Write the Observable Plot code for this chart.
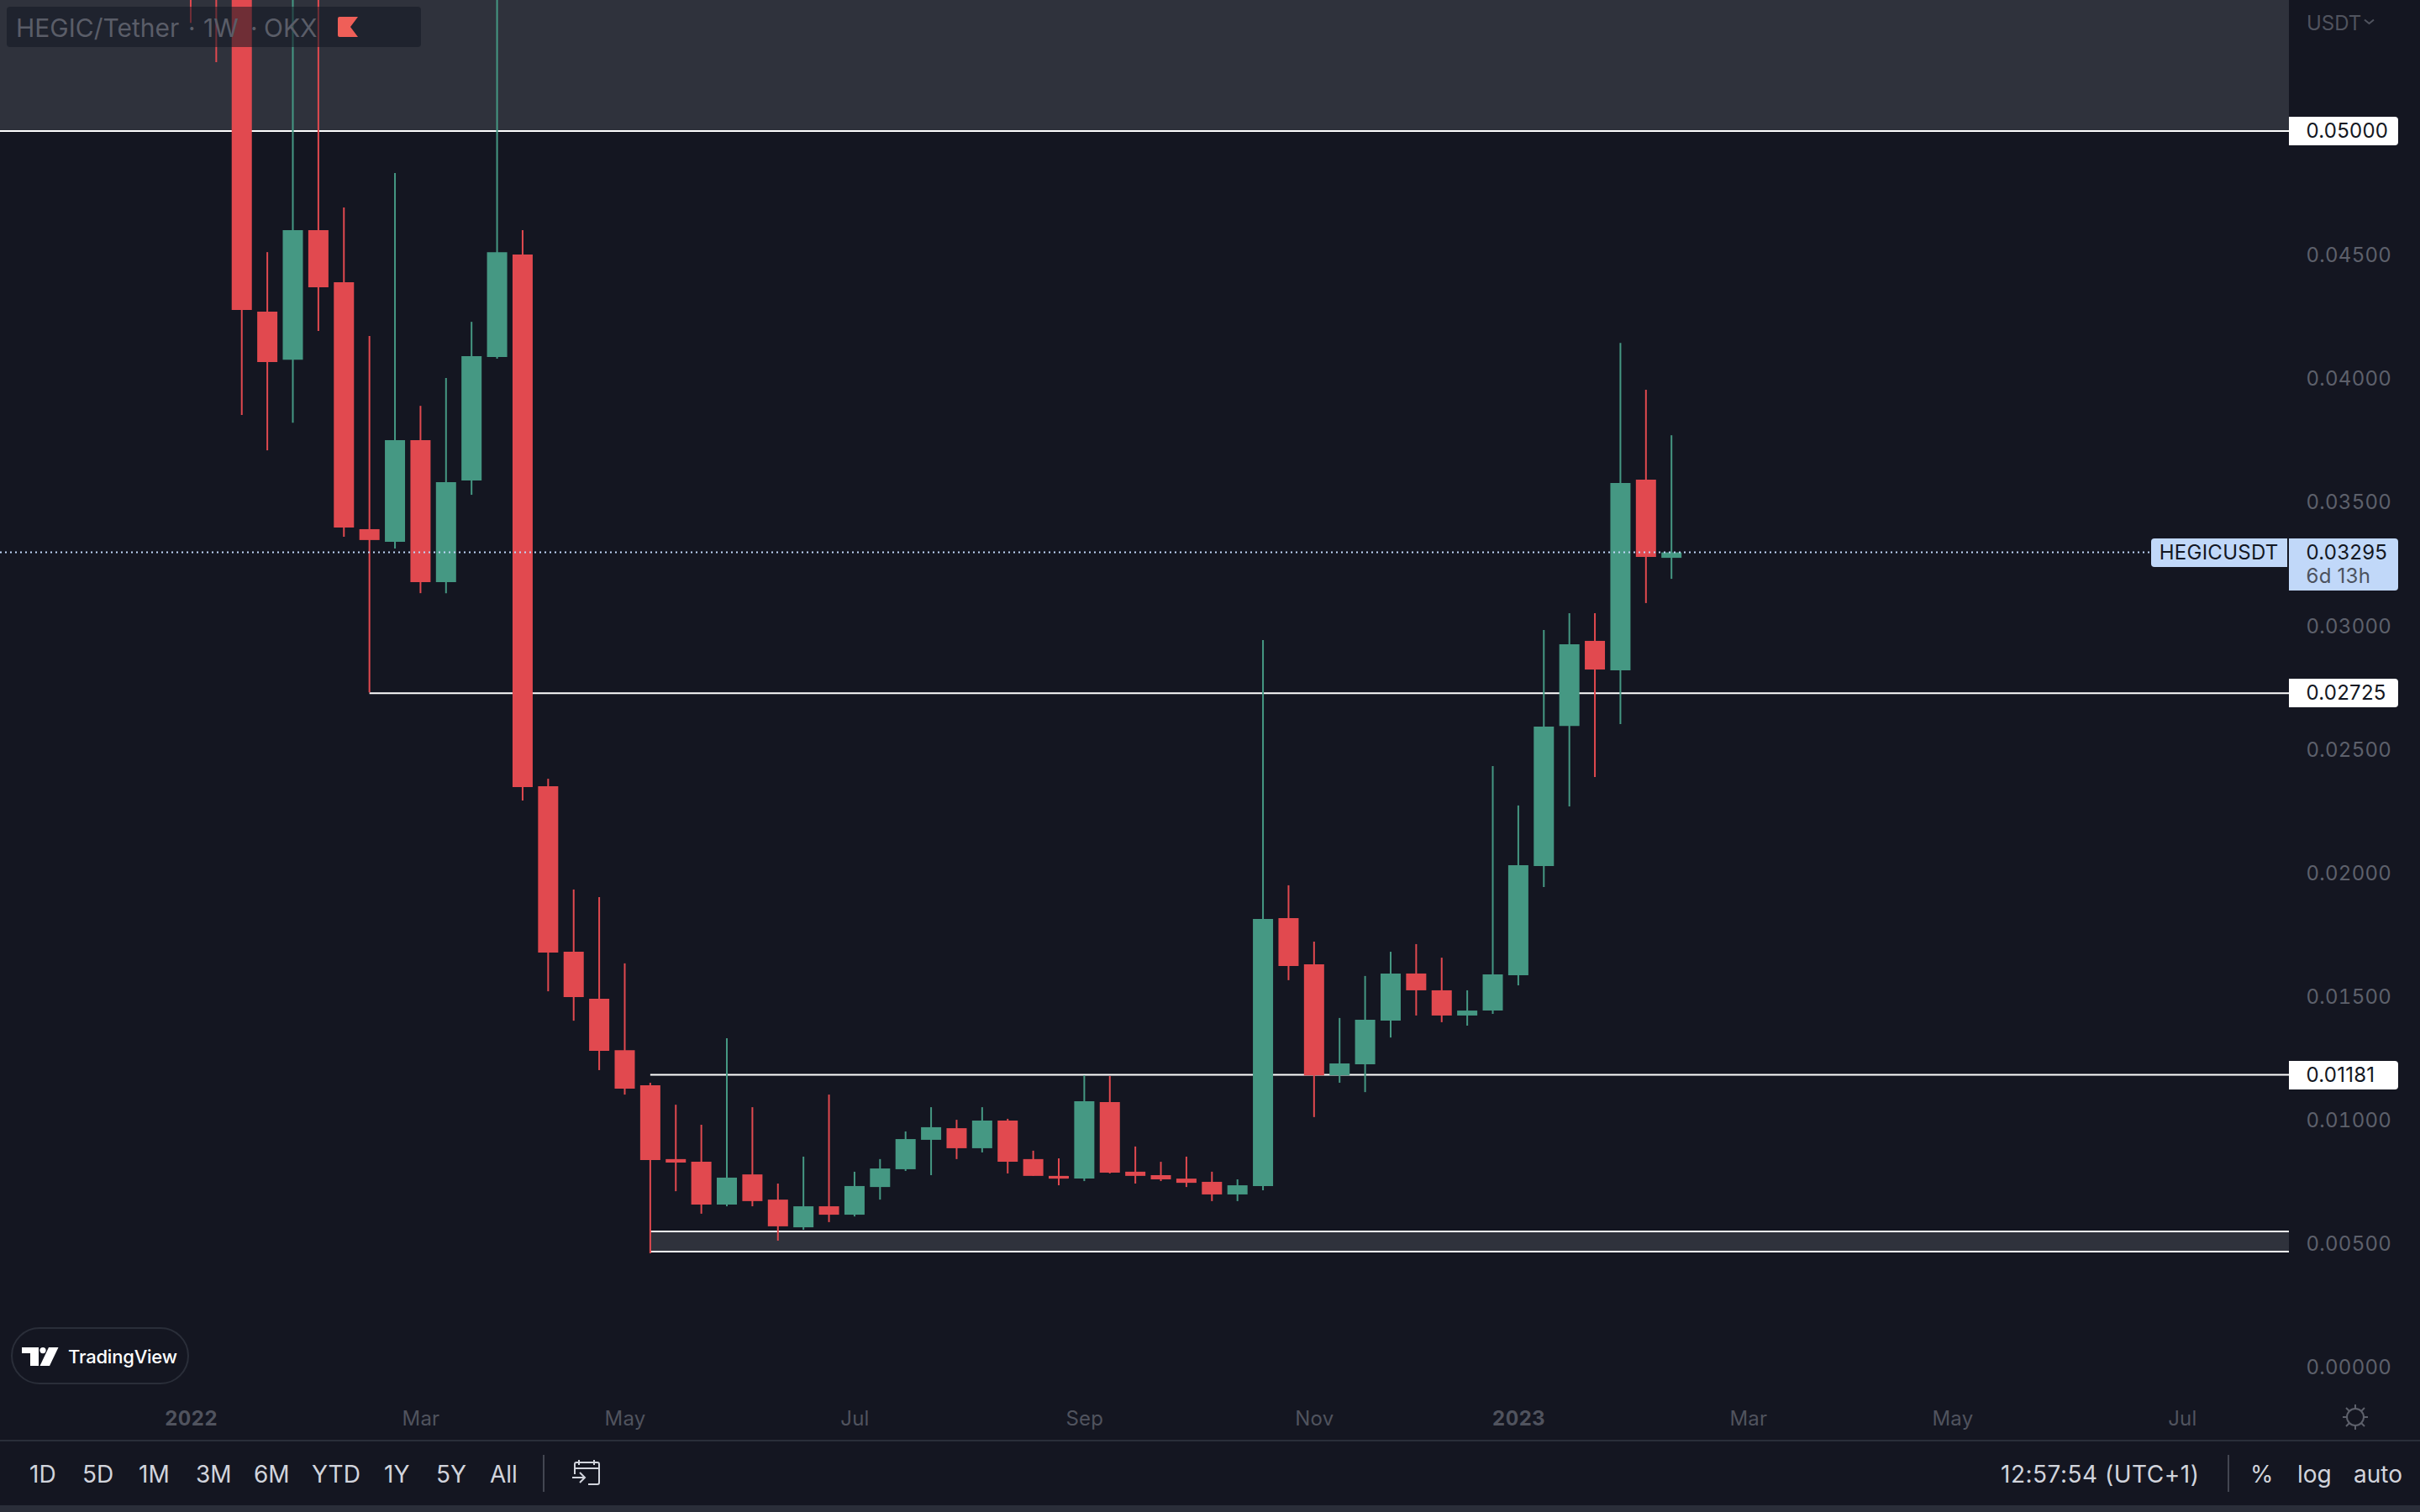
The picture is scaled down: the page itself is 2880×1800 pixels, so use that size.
<!DOCTYPE html>
<html>
<head>
<meta charset="utf-8">
<script src="https://cdn.jsdelivr.net/npm/d3@7"></script>
<script src="https://cdn.jsdelivr.net/npm/@observablehq/plot@0.6"></script>
<style>
  html,body{margin:0;padding:0;background:#141621;}
  #wrap{position:relative;width:2880px;height:1800px;overflow:hidden;background:#141621;font-family:Inter,sans-serif;}
  #wrap svg{display:block;}
  #chart svg text{letter-spacing:0.25px;}
  .t{position:absolute;white-space:nowrap;transform:translateY(-50%);line-height:1;}
  .btn{color:#d1d4dc;font-size:28px;top:1755px;}
  .abs{position:absolute;}
</style>
</head>
<body>
<div id="wrap">
  <div id="chart"></div>

  <!-- legend -->
  <div class="abs" style="left:8px;top:8px;width:493px;height:48px;background:rgba(19,23,34,0.55);border-radius:4px;"></div>
  <div class="t" style="left:19px;top:33px;font-size:30px;color:#5a5d68;">HEGIC/Tether</div>
  <div class="t" style="left:224px;top:33px;font-size:30px;color:#5a5d68;">·</div>
  <div class="t" style="left:242px;top:33px;font-size:30px;color:#5a5d68;">1W</div>
  <div class="t" style="left:298px;top:33px;font-size:30px;color:#5a5d68;">·</div>
  <div class="t" style="left:314px;top:33px;font-size:30px;color:#5a5d68;">OKX</div>
  <svg class="abs" style="left:402px;top:20px;" width="24" height="24" viewBox="0 0 24 24"><path d="M2 0H24L15 12L24 24H2Q0 24 0 22V2Q0 0 2 0Z" fill="#ef5f58"/></svg>

  <!-- scale currency -->
  <div class="t" style="left:2745px;top:28px;font-size:24px;color:#50535e;">USDT</div>
  <svg class="abs" style="left:2813px;top:22px;" width="13" height="8" viewBox="0 0 13 8"><path d="M1 1.5L6.5 6L12 1.5" fill="none" stroke="#50535e" stroke-width="2"/></svg>

  <!-- TradingView badge -->
  <div class="abs" style="left:13px;top:1580px;width:208px;height:64px;border:2px solid #2a2e39;border-radius:34px;"></div>
  <svg class="abs" style="left:26px;top:1604px;" width="44" height="22" viewBox="0 0 44 22"><path d="M0 0H20V22H10V7H0Z" fill="#fff"/><circle cx="25" cy="3.6" r="3.6" fill="#fff"/><path d="M32 0H43.5L33 22H21.5Z" fill="#fff"/></svg>
  <div class="t" style="left:81px;top:1615px;font-size:22px;font-weight:500;color:#fff;letter-spacing:-0.2px;">TradingView</div>

  <!-- sun icon -->
  <svg class="abs" style="left:2787px;top:1671px;" width="32" height="32" viewBox="0 0 32 32" fill="none" stroke="#5d606b" stroke-width="2"><circle cx="16" cy="16" r="10"/><path d="M16 1V6M16 26V31M1 16H6M26 16H31M5 5L9 9M23 23L27 27M27 5L23 9M9 23L5 27"/></svg>

  <!-- bottom toolbar -->
  <div class="abs" style="left:0;top:1714px;width:2880px;height:2px;background:#2a2e39;"></div>
  <div class="abs" style="left:0;top:1792px;width:2880px;height:8px;background:#2a2e39;"></div>
  <div class="t btn" style="left:35px;">1D</div>
  <div class="t btn" style="left:98px;">5D</div>
  <div class="t btn" style="left:165px;">1M</div>
  <div class="t btn" style="left:233px;">3M</div>
  <div class="t btn" style="left:302px;">6M</div>
  <div class="t btn" style="left:371px;">YTD</div>
  <div class="t btn" style="left:457px;">1Y</div>
  <div class="t btn" style="left:519px;">5Y</div>
  <div class="t btn" style="left:583px;">All</div>
  <div class="abs" style="left:646px;top:1732px;width:2px;height:44px;background:#434651;"></div>
  <svg class="abs" style="left:680px;top:1738px;" width="34" height="31" viewBox="0 0 34 31" fill="none" stroke="#d1d4dc" stroke-width="2"><path d="M4 17V5Q4 3 6 3H31Q33 3 33 5V27Q33 29 31 29H20M4 10H33M9 0V6M27 0V6M1 21H16M10 15L16 21L10 27"/></svg>
  <div class="t btn" style="left:2381px;letter-spacing:0.5px;">12:57:54 (UTC+1)</div>
  <div class="abs" style="left:2651px;top:1732px;width:2px;height:44px;background:#434651;"></div>
  <div class="t btn" style="left:2678px;">%</div>
  <div class="t btn" style="left:2734px;">log</div>
  <div class="t btn" style="left:2801px;">auto</div>
</div>
<script>
const weeks = ["2022-01-03","2022-01-10","2022-01-17","2022-01-24","2022-01-31","2022-02-07","2022-02-14","2022-02-21","2022-02-28","2022-03-07","2022-03-14","2022-03-21","2022-03-28","2022-04-04","2022-04-11","2022-04-18","2022-04-25","2022-05-02","2022-05-09","2022-05-16","2022-05-23","2022-05-30","2022-06-06","2022-06-13","2022-06-20","2022-06-27","2022-07-04","2022-07-11","2022-07-18","2022-07-25","2022-08-01","2022-08-08","2022-08-15","2022-08-22","2022-08-29","2022-09-05","2022-09-12","2022-09-19","2022-09-26","2022-10-03","2022-10-10","2022-10-17","2022-10-24","2022-10-31","2022-11-07","2022-11-14","2022-11-21","2022-11-28","2022-12-05","2022-12-12","2022-12-19","2022-12-26","2023-01-02","2023-01-09","2023-01-16","2023-01-23","2023-01-30","2023-02-06","2023-02-13"];
const opens = [.068,.062,.0575,.04269,.04075,.04599,.04388,.03389,.03338,.03749,.03175,.03586,.04086,.045,.02349,.01679,.01489,.01281,.01139,.0084,.00829,.00656,.00778,.00676,.00564,.00649,.00615,.00727,.00799,.00918,.00965,.00884,.00996,.0084,.00772,.00761,.01071,.00789,.00775,.00761,.00748,.00697,.00731,.01815,.01628,.01179,.01224,.014,.01591,.01523,.01421,.01441,.01584,.02026,.02593,.02937,.02818,.03589,.03273];
const closes = [.062,.0575,.04276,.04065,.04599,.04368,.03396,.03345,.03749,.03175,.03579,.04089,.0451,.02345,.01676,.01496,.01278,.01125,.00836,.00826,.00656,.00765,.0067,.00568,.00649,.00615,.00731,.00802,.00921,.00969,.00884,.00996,.00829,.00772,.00761,.01074,.00785,.00772,.00758,.00744,.00697,.00734,.01812,.01621,.01179,.01227,.01404,.01591,.01523,.01421,.01441,.01587,.02029,.0259,.02923,.02821,.03576,.03277,.03295];
const highs = [.072,.066,.06,.0451,.06,.064,.04691,.04171,.0483,.03888,.04001,.04228,.068,.04599,.02379,.01931,.019,.01632,.01149,.0106,.00979,.01329,.0105,.00741,.0085,.01101,.00789,.0084,.00952,.0105,.00999,.0105,.01003,.00874,.00843,.01179,.01176,.00891,.00829,.0085,.00789,.00758,.0294,.01948,.0172,.01411,.01581,.01679,.0171,.01655,.01523,.0243,.02271,.02981,.03049,.03049,.04143,.03953,.03769];
const lows = [.05438,.05279,.03851,.03708,.0382,.04191,.03358,.02729,.03311,.0313,.0313,.03528,.04079,.02291,.01519,.014,.012,.01101,.00459,.0071,.00619,.00649,.00649,.0051,.00554,.00585,.00608,.00676,.00792,.00775,.0084,.00867,.00782,.00772,.00734,.00751,.00782,.00741,.00751,.00727,.0067,.0067,.00714,.01564,.0101,.01149,.01111,.01332,.01421,.01394,.0138,.01428,.01543,.01941,.02267,.02386,.026,.0309,.03188];

const priceTicks = [0,.005,.01,.015,.02,.025,.03,.035,.04,.045];
const monthTicks = ["2022-03-07","2022-05-02","2022-07-04","2022-09-05","2022-11-07","2023-03-06","2023-05-01","2023-07-03"];
const yearTicks = ["2022-01-03","2023-01-02"];

const levelPrices = [0.05, 0.02725, 0.01181];
const levelStarts = ["2021-11-01","2022-02-21","2022-05-09"];
const zoneLow = 0.00466, zoneHigh = 0.00547, zoneStart = "2022-05-09";
const upperBandLow = 0.05, upperBandHigh = 0.06;
const lastPrice = 0.03295;

const RED = "#e1494f", GREEN = "#459883", BAND = "#2f323c", BG = "#141621";
const d = s => new Date(s + "T00:00:00Z");
const domainX = [new Date("2021-11-11T17:00:00Z"), new Date("2023-08-01T07:00:00Z")];
const candles = weeks.map((w, i) => ({date: d(w), open: opens[i], close: closes[i], high: highs[i], low: lows[i], color: closes[i] >= opens[i] ? GREEN : RED}));
const levels = levelPrices.map((p, i) => ({price: p, start: d(levelStarts[i]), end: domainX[1]}));
const zone = [{start: d(zoneStart), end: domainX[1], low: zoneLow, high: zoneHigh}];
const fmt = d3.format(".5f");

function tagBackgrounds(index, {y}) {
  const g = d3.create("svg:g");
  const box = (x0, x1, y0, y1, fill, rl, rr) => g.append("path").attr("fill", fill).attr("d",
    `M${x0 + rl},${y0}H${x1 - rr}Q${x1},${y0} ${x1},${y0 + rr}V${y1 - rr}Q${x1},${y1} ${x1 - rr},${y1}H${x0 + rl}Q${x0},${y1} ${x0},${y1 - rl}V${y0 + rl}Q${x0},${y0} ${x0 + rl},${y0}Z`);
  for (const p of levelPrices) { const c = Math.round(y(p)); box(2724, 2854, c - 17, c + 17, "#ffffff", 0, 4); }
  const c = Math.round(y(lastPrice));
  box(2724, 2854, c - 17, c + 45, "#c1d8f9", 0, 4);
  box(2560, 2722, c - 17, c + 17, "#c1d8f9", 4, 0);
  return g.node();
}

const shared = {clip: true};
const chart = Plot.plot({
  width: 2880, height: 1800,
  marginTop: 0, marginLeft: 0, marginRight: 156, marginBottom: 135,
  style: {background: BG, fontFamily: "Inter, sans-serif", overflow: "hidden"},
  x: {type: "utc", domain: domainX, range: [0, 2724]},
  y: {domain: [0, 0.05], range: [1627, 156]},
  marks: [
    Plot.rect([{a: domainX[0], b: domainX[1]}], {x1: "a", x2: "b", y1: () => upperBandLow, y2: () => upperBandHigh, fill: BAND, ...shared}),
    Plot.rect(zone, {x1: "start", x2: "end", y1: "low", y2: "high", fill: BAND, ...shared}),
    Plot.ruleY(levels, {y: "price", x1: "start", x2: "end", stroke: "#ffffff", strokeWidth: 2, dy: -0.5, ...shared}),
    Plot.ruleY(zone, {y: "low", x1: "start", x2: "end", stroke: "#ffffff", strokeWidth: 2, dy: -0.5, ...shared}),
    Plot.ruleY(zone, {y: "high", x1: "start", x2: "end", stroke: "#ffffff", strokeWidth: 2, dy: -0.5, ...shared}),
    Plot.ruleX(candles, {x: "date", y1: "low", y2: "high", stroke: "color", strokeWidth: 2, dx: -0.5, ...shared}),
    Plot.ruleX(candles, {x: "date", y1: "open", y2: "close", stroke: "color", strokeWidth: 24, dx: -0.5, ...shared}),
    Plot.ruleY([lastPrice], {x1: domainX[0], x2: domainX[1], stroke: "#c1d8f9", strokeWidth: 2, strokeDasharray: "2 4", dy: -0.5, ...shared}),
    Plot.axisY({anchor: "right", ticks: priceTicks, tickFormat: fmt, tickSize: 0, tickPadding: 20, fontSize: 24, color: "#5d606b", label: null, dy: 1}),
    Plot.axisX({anchor: "bottom", ticks: monthTicks.map(d), tickFormat: d3.utcFormat("%b"), tickSize: 0, tickPadding: 14, fontSize: 24, color: "#50535e", label: null}),
    Plot.axisX({anchor: "bottom", ticks: yearTicks.map(d), tickFormat: d3.utcFormat("%Y"), tickSize: 0, tickPadding: 14, fontSize: 24, fontWeight: 700, color: "#50535e", label: null}),
    tagBackgrounds,
    Plot.text(levelPrices, {y: p => p, text: fmt, frameAnchor: "right", textAnchor: "start", dx: 20, fontSize: 24, fill: "#131722"}),
    Plot.text([lastPrice], {y: p => p, text: fmt, frameAnchor: "right", textAnchor: "start", dx: 20, fontSize: 24, fill: "#131722"}),
    Plot.text([lastPrice], {y: p => p, text: () => "6d 13h", frameAnchor: "right", textAnchor: "start", dx: 20, dy: 28, fontSize: 24, fill: "#4c525e"}),
    Plot.text([lastPrice], {y: p => p, text: () => "HEGICUSDT", frameAnchor: "right", textAnchor: "end", dx: -13, fontSize: 24, fill: "#131722"})
  ]
});
document.getElementById("chart").appendChild(chart);
</script>
</body>
</html>
